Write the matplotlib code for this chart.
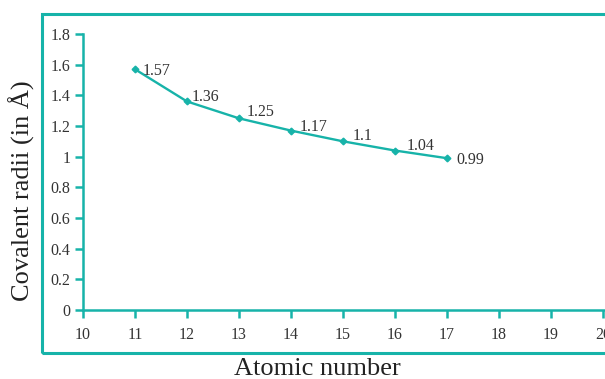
import matplotlib
matplotlib.use("Agg")
import matplotlib.pyplot as plt
from matplotlib.patches import Rectangle

atomic_number = [11, 12, 13, 14, 15, 16, 17]
covalent_radii = [1.57, 1.36, 1.25, 1.17, 1.10, 1.04, 0.99]
point_labels = ["1.57", "1.36", "1.25", "1.17", "1.1", "1.04", "0.99"]
x_ticks = list(range(10, 21))
y_ticks = [0, 0.2, 0.4, 0.6, 0.8, 1.0, 1.2, 1.4, 1.6, 1.8]
y_tick_labels = ["0", "0.2", "0.4", "0.6", "0.8", "1", "1.2", "1.4", "1.6", "1.8"]

label_offsets = [(8, -2), (5, 4), (8, 6), (9, 4), (10, 5), (12, 5), (9, -2)]

teal = "#17b3a9"
txt = "#333333"
plt.rcParams["font.family"] = ["Liberation Serif", "DejaVu Serif"]

fig = plt.figure(figsize=(6.05, 3.79), dpi=100)
W, H = 605, 379
ax = fig.add_axes([83 / W, (H - 310) / H, (603 - 83) / W, (310 - 34) / H])

# outer frame box
fig.patches.append(Rectangle((42 / W, (H - 353) / H), 1.0, (353 - 14) / H,
                             transform=fig.transFigure, fill=False,
                             edgecolor=teal, linewidth=2.2, clip_on=False))

ax.plot(atomic_number, covalent_radii, color=teal, linewidth=1.7,
        marker="D", markersize=3.4, markerfacecolor=teal, markeredgecolor=teal)
for x, y, lab, off in zip(atomic_number, covalent_radii, point_labels, label_offsets):
    ax.annotate(lab, (x, y), xytext=off, textcoords="offset pixels",
                ha="left", va="center", fontsize=11.5, color=txt)

ax.set_xlim(10, 20)
ax.set_ylim(0, 1.8)
ax.set_xticks(x_ticks)
ax.set_yticks(y_ticks)
ax.set_yticklabels(y_tick_labels)
for s in ["top", "right"]:
    ax.spines[s].set_visible(False)
for s in ["left", "bottom"]:
    ax.spines[s].set_color(teal)
    ax.spines[s].set_linewidth(1.8)
ax.spines["bottom"].set_bounds(10, 20.2)
ax.tick_params(axis="both", colors=teal, width=1.8, length=6, labelsize=11.5,
               labelcolor=txt)
ax.tick_params(axis="x", pad=6)
ax.tick_params(axis="y", pad=3)

fig.text(22 / W, (H - 191) / H, "Covalent radii (in Å)", rotation=90,
         ha="center", va="center", fontsize=19, color="#222222")
fig.text(317 / W, (H - 369) / H, "Atomic number", ha="center", va="center",
         fontsize=19, color="#222222")

fig.savefig("out.png", dpi=100)
